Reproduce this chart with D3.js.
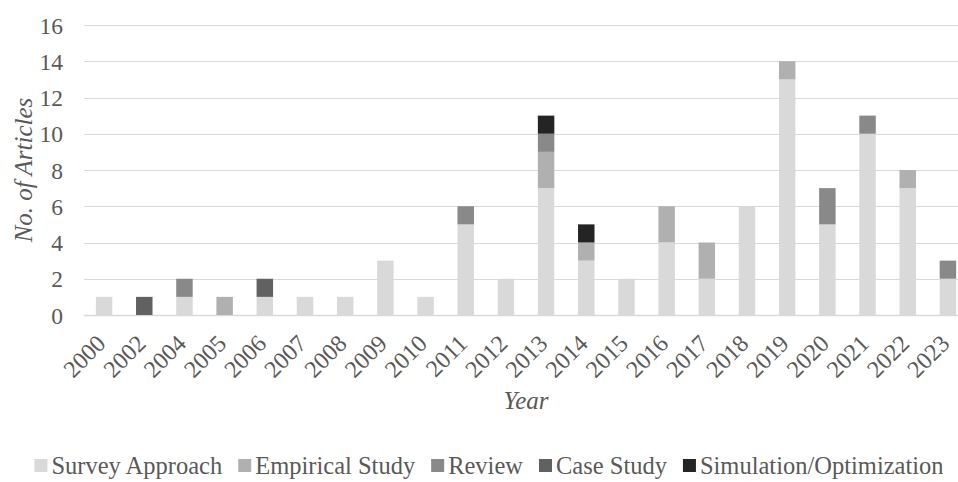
<!DOCTYPE html>
<html>
<head>
<meta charset="utf-8">
<script src="https://cdn.jsdelivr.net/npm/d3@7"></script>
<style>
  html, body { margin: 0; padding: 0; background: #fff; }
  svg { display: block; font-family: "Liberation Serif", "Times New Roman", serif; }
</style>
</head>
<body>
<svg id="chart" width="958" height="482"></svg>
<script>
// Publication years (categories)
const years = ["2000","2002","2004","2005","2006","2007","2008","2009","2010","2011","2012",
               "2013","2014","2015","2016","2017","2018","2019","2020","2021","2022","2023"];

// Article counts per research approach
const surveyApproach = [1,0,1,0,1,1,1,3,1,5,2,7,3,2,4,2,6,13,5,10,7,2];
const empiricalStudy = [0,0,0,1,0,0,0,0,0,0,0,2,1,0,2,2,0,1,0,0,1,0];
const review         = [0,0,1,0,0,0,0,0,0,1,0,1,0,0,0,0,0,0,2,1,0,1];
const caseStudy      = [0,1,0,0,1,0,0,0,0,0,0,0,0,0,0,0,0,0,0,0,0,0];
const simulation     = [0,0,0,0,0,0,0,0,0,0,0,1,1,0,0,0,0,0,0,0,0,0];

const seriesNames = ["Survey Approach","Empirical Study","Review","Case Study","Simulation/Optimization"];
const seriesColors = ["#d9d9d9","#b0b0b0","#898989","#616161","#242424"];
const yTicks = [0,2,4,6,8,10,12,14,16];

const seriesValues = [surveyApproach, empiricalStudy, review, caseStudy, simulation];
const table = years.map((y, i) => {
  const row = { year: y };
  seriesNames.forEach((n, k) => row[n] = seriesValues[k][i]);
  return row;
});

const svg = d3.select("#chart");
const margin = { left: 84, right: 968, top: 25, bottom: 315 };
const textColor = "#595959";
const fontFamily = "'Liberation Serif', 'Times New Roman', serif";

const x = d3.scaleBand().domain(years).range([margin.left, margin.right]).paddingInner(0.59).paddingOuter(0.295);
const y = d3.scaleLinear().domain([0, 16]).range([margin.bottom, margin.top]);

// Horizontal gridlines
svg.append("g")
  .selectAll("line")
  .data(yTicks)
  .join("line")
  .attr("x1", margin.left).attr("x2", margin.right)
  .attr("y1", d => Math.round(y(d)) + 0.5).attr("y2", d => Math.round(y(d)) + 0.5)
  .attr("stroke", "#d9d9d9").attr("stroke-width", d => d === 0 ? 1.5 : 1.2);

// Y axis tick labels
const yAxis = d3.axisLeft(y).tickValues(yTicks).tickSize(0).tickPadding(0);
const gy = svg.append("g").attr("transform", `translate(${margin.left - 21},0)`).call(yAxis);
gy.select(".domain").remove();
gy.selectAll("text")
  .attr("font-family", fontFamily)
  .attr("font-size", 23.5)
  .attr("fill", textColor)
  .attr("dy", "0.34em");

// Stacked bars
const stack = d3.stack().keys(seriesNames);
const stacked = stack(table);
svg.append("g")
  .selectAll("g")
  .data(stacked)
  .join("g")
  .attr("fill", (d, i) => seriesColors[i])
  .selectAll("rect")
  .data(d => d.filter(s => s[1] > s[0]))
  .join("rect")
  .attr("x", d => x(d.data.year))
  .attr("width", x.bandwidth())
  .attr("y", d => y(d[1]))
  .attr("height", d => y(d[0]) - y(d[1]));

// X axis tick labels, rotated
const xAxis = d3.axisBottom(x).tickSize(0).tickPadding(0);
const gx = svg.append("g").attr("transform", `translate(0,${margin.bottom})`).call(xAxis);
gx.select(".domain").remove();
gx.selectAll("text")
  .attr("font-family", fontFamily)
  .attr("font-size", 24)
  .attr("fill", textColor)
  .attr("text-anchor", "end")
  .attr("dy", null)
  .attr("y", 0)
  .attr("transform", "translate(3,30) rotate(-45)");

// Axis titles
svg.append("text")
  .attr("x", (margin.left + margin.right) / 2)
  .attr("y", 409)
  .attr("text-anchor", "middle")
  .attr("font-size", 25)
  .attr("font-style", "italic")
  .attr("fill", textColor)
  .text("Year");

svg.append("text")
  .attr("transform", `translate(32,${(margin.top + margin.bottom) / 2}) rotate(-90)`)
  .attr("text-anchor", "middle")
  .attr("font-size", 25)
  .attr("font-style", "italic")
  .attr("fill", textColor)
  .text("No. of Articles");

// Legend
const legend = svg.append("g");
let cursor = 0;
const gap = 16;
seriesNames.forEach((n, i) => {
  const g = legend.append("g");
  g.append("rect").attr("width", 13).attr("height", 13).attr("y", -15).attr("fill", seriesColors[i]);
  const t = g.append("text").attr("x", 17).attr("font-size", 24.5).attr("fill", textColor).text(n);
  const w = 17 + t.node().getComputedTextLength();
  g.attr("transform", `translate(${cursor},0)`);
  cursor += w + gap;
});
const totalW = cursor - gap;
legend.attr("transform", `translate(${(37 + 941) / 2 - totalW / 2},474)`);
</script>
</body>
</html>
